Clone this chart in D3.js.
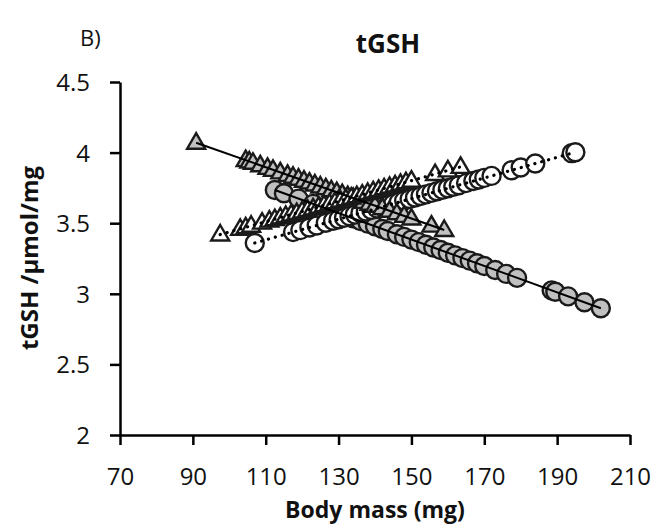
<!DOCTYPE html>
<html>
<head>
<meta charset="utf-8">
<script src="https://cdn.jsdelivr.net/npm/d3@7"></script>
<style>
  html, body { margin: 0; padding: 0; background: #fff; }
  svg { display: block; font-family: "Open Sans", "Noto Sans", sans-serif; }
</style>
</head>
<body>
<svg id="chart" width="656" height="524"></svg>
<script>
// ---- data ----
const xTicks = [70, 90, 110, 130, 150, 170, 190, 210];
const yTicks = [2, 2.5, 3, 3.5, 4, 4.5];
const yTickLabels = ["2", "2.5", "3", "3.5", "4", "4.5"];

// grey filled circles (solid trend)
const greyCircleX = [112.5, 115, 119, 123, 127, 131, 134, 136, 138, 140, 142, 143.5, 146, 148, 150, 152, 154, 156, 158, 160, 162, 164, 166, 168, 170, 173, 176, 179, 188.5, 189.5, 193, 197.5, 202];
const greyCircleY = [3.735, 3.712, 3.674, 3.637, 3.599, 3.562, 3.534, 3.515, 3.497, 3.478, 3.459, 3.445, 3.422, 3.403, 3.384, 3.366, 3.347, 3.328, 3.310, 3.291, 3.272, 3.253, 3.235, 3.216, 3.197, 3.169, 3.141, 3.113, 3.024, 3.015, 2.982, 2.940, 2.898];

// open circles (dotted trend)
const openCircleX = [107, 117.5, 119.5, 122, 124, 126.5, 128.5, 130, 131.5, 133, 134.5, 136, 137.5, 139, 140.5, 142, 143.5, 145, 146.5, 148, 149.5, 151, 152.5, 154, 155.5, 157, 158.5, 160, 161.5, 163, 165, 167, 168.5, 170, 172, 177.5, 180, 184, 194, 195];
const openCircleY = [3.360, 3.437, 3.451, 3.470, 3.484, 3.503, 3.517, 3.528, 3.539, 3.550, 3.561, 3.572, 3.583, 3.594, 3.605, 3.616, 3.627, 3.638, 3.649, 3.660, 3.671, 3.682, 3.693, 3.704, 3.715, 3.726, 3.737, 3.747, 3.758, 3.769, 3.784, 3.799, 3.810, 3.821, 3.835, 3.875, 3.894, 3.923, 3.996, 4.003];

// grey filled triangles (solid trend)
const greyTriX = [90.9, 104.5, 105.5, 106.5, 108.5, 110.5, 112, 114, 116, 117.5, 119, 120.5, 122, 123.5, 125, 126.5, 128, 129.5, 131, 132.5, 134, 135.5, 137, 138.5, 140, 142, 144, 146, 148, 150, 155.5, 159];
const greyTriY = [4.070, 3.947, 3.937, 3.928, 3.910, 3.892, 3.878, 3.860, 3.842, 3.829, 3.815, 3.801, 3.788, 3.774, 3.760, 3.747, 3.733, 3.720, 3.706, 3.692, 3.679, 3.665, 3.651, 3.638, 3.624, 3.606, 3.588, 3.570, 3.552, 3.533, 3.483, 3.452];

// open triangles (dotted trend)
const openTriX = [97.5, 103, 104.5, 106, 109, 111, 112.5, 114, 115.5, 117, 118.5, 120, 121.5, 123, 124.5, 126, 127.5, 129, 130.5, 132, 133.5, 135, 136.5, 138, 139.5, 141, 142.5, 144, 145.5, 147, 148.5, 150, 156.5, 160, 163.5];
const openTriY = [3.420, 3.460, 3.471, 3.482, 3.504, 3.518, 3.529, 3.540, 3.551, 3.562, 3.572, 3.583, 3.594, 3.605, 3.616, 3.627, 3.638, 3.649, 3.660, 3.670, 3.681, 3.692, 3.703, 3.714, 3.725, 3.736, 3.747, 3.758, 3.768, 3.779, 3.790, 3.801, 3.848, 3.874, 3.899];

// ---- layout ----
const svg = d3.select("#chart");
const x = d3.scaleLinear().domain([70, 210]).range([120, 630]);
const y = d3.scaleLinear().domain([2, 4.5]).range([435, 82]);

const GREY = "#c0c0c0";
const INK = "#1a1a1a";

function pts(xs, ys) { return xs.map((v, i) => ({ x: v, y: ys[i] })); }
const greyCircles = pts(greyCircleX, greyCircleY);
const openCircles = pts(openCircleX, openCircleY);
const greyTris = pts(greyTriX, greyTriY);
const openTris = pts(openTriX, openTriY);

// ---- axes ----
const xAxis = d3.axisBottom(x).tickValues(xTicks).tickSize(10).tickSizeOuter(0).tickFormat(d3.format("d"));
const yAxis = d3.axisLeft(y).tickValues(yTicks).tickSize(10).tickSizeOuter(0).tickFormat((d, i) => yTickLabels[i]);

const gx = svg.append("g").attr("transform", "translate(0,435)").call(xAxis);
const gy = svg.append("g").attr("transform", "translate(120,0)").call(yAxis);
[gx, gy].forEach(g => {
  g.selectAll("path.domain").attr("stroke", "#000").attr("stroke-width", 2.5);
  g.selectAll(".tick line").attr("stroke", "#000").attr("stroke-width", 2.5);
  g.selectAll(".tick text").attr("fill", "#111").style("font-size", "24px").style("font-family", "'Open Sans', sans-serif");
});
gx.selectAll(".tick text").attr("dy", "0").attr("y", 50);
gy.selectAll(".tick text").attr("x", -30).attr("dy", "0.35em");

// ---- markers ----
const triPath = "M0,-9.5L9,6L-9,6Z";

svg.append("g").selectAll("circle").data(greyCircles).join("circle")
  .attr("cx", d => x(d.x)).attr("cy", d => y(d.y)).attr("r", 9)
  .attr("fill", GREY).attr("stroke", INK).attr("stroke-width", 2.4);

svg.append("g").selectAll("circle").data(openCircles).join("circle")
  .attr("cx", d => x(d.x)).attr("cy", d => y(d.y)).attr("r", 9)
  .attr("fill", "#fff").attr("stroke", INK).attr("stroke-width", 2.4);

svg.append("g").selectAll("path").data(greyTris).join("path")
  .attr("transform", d => `translate(${x(d.x)},${y(d.y)})`).attr("d", triPath)
  .attr("fill", GREY).attr("stroke", INK).attr("stroke-width", 2.4).attr("stroke-linejoin", "miter");

svg.append("g").selectAll("path").data(openTris).join("path")
  .attr("transform", d => `translate(${x(d.x)},${y(d.y)})`).attr("d", triPath)
  .attr("fill", "#fff").attr("stroke", INK).attr("stroke-width", 2.4).attr("stroke-linejoin", "miter");

// ---- trend lines ----
const line = d3.line().x(d => x(d.x)).y(d => y(d.y));
function trend(data, dotted) {
  const ends = [data[0], data[data.length - 1]];
  const p = svg.append("path").datum(ends).attr("d", line)
    .attr("fill", "none").attr("stroke", "#000");
  if (dotted) {
    p.attr("stroke-width", 3.2).attr("stroke-dasharray", "0.1,7").attr("stroke-linecap", "round");
  } else {
    p.attr("stroke-width", 2);
  }
}
trend(greyCircles, false);
trend(greyTris, false);
trend(openCircles, true);
trend(openTris, true);

// ---- texts ----
svg.append("text").attr("x", 80).attr("y", 46).text("B)")
  .style("font-size", "22px").attr("fill", "#111");
svg.append("text").attr("x", 388).attr("y", 53).attr("text-anchor", "middle").text("tGSH")
  .style("font-size", "26px").style("font-weight", "bold").attr("fill", "#111");
svg.append("text").attr("x", 375).attr("y", 518).attr("text-anchor", "middle").text("Body mass (mg)")
  .style("font-size", "23px").style("font-weight", "bold").attr("fill", "#111");
svg.append("text").attr("transform", "translate(38,258) rotate(-90)").attr("text-anchor", "middle")
  .text("tGSH /µmol/mg")
  .style("font-size", "24px").style("font-weight", "bold").attr("fill", "#111");
</script>
</body>
</html>
